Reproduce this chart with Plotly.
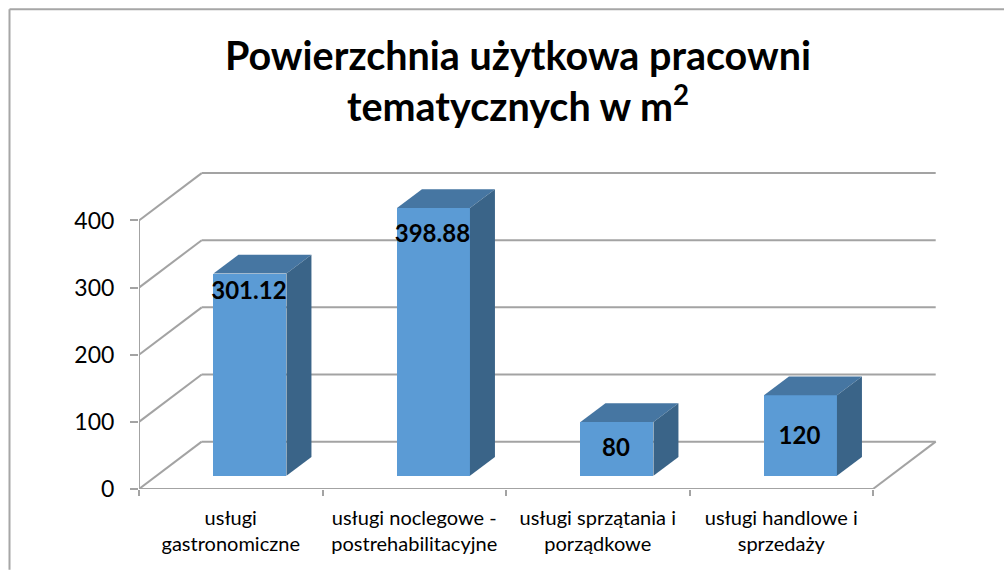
import plotly.graph_objects as go

# ---- data ----
categories = ["usługi<br>gastronomiczne", "usługi noclegowe -<br>postrehabilitacyjne",
              "usługi sprzątania i<br>porządkowe", "usługi handlowe i<br>sprzedaży"]
values = [301.12, 398.88, 80, 120]
value_labels = ["301.12", "398.88", "80", "120"]
label_offsets = [-9, -22, -21.5, -43.5]
y_ticks = [0, 100, 200, 300, 400]
title_text = "Powierzchnia użytkowa pracowni<br>tematycznych w m<sup>2</sup>"

# ---- layout geometry ----
W, H = 1004, 570
L, R, T, B = 139, 944, 160, 489.3      # plot box in page pixels
PX_X = 183.5                           # pixels per category
PX_Y = 0.672                           # pixels per value unit
x0 = -0.5
x_max = x0 + (R - L) / PX_X
y_max = (B - T) / PX_Y


def dx(px):
    return px / PX_X


def dy(px):
    return px / PX_Y


WALL_DX, WALL_DY = dx(62.7), dy(47.4)
BAR_SHIFT_X, BAR_BASE = dx(19.2), dy(13.3)
BAR_W = dx(73)
DEPTH_X, DEPTH_Y = dx(25), dy(18.7)
GRID = "#a3a3a3"
FRONT, TOP_FACE, SIDE = "#5b9bd5", "#4676a2", "#3a6488"
FONT = "Lato"

positions = list(range(len(values)))
centers = [p + BAR_SHIFT_X for p in positions]
x_end = len(values) - 0.5

fig = go.Figure()

# front faces
fig.add_trace(go.Bar(x=centers, y=values, base=BAR_BASE, width=BAR_W,
                     marker=dict(color=FRONT, line=dict(width=0)),
                     showlegend=False, hoverinfo="skip"))

# top and side faces
for c, v in zip(centers, values):
    left, right = c - BAR_W / 2, c + BAR_W / 2
    top = v + BAR_BASE
    fig.add_trace(go.Scatter(
        x=[left, right, right + DEPTH_X, left + DEPTH_X, left],
        y=[top, top, top + DEPTH_Y, top + DEPTH_Y, top],
        mode="lines", fill="toself", fillcolor=TOP_FACE, line=dict(width=0),
        showlegend=False, hoverinfo="skip"))
    fig.add_trace(go.Scatter(
        x=[right, right + DEPTH_X, right + DEPTH_X, right, right],
        y=[top, top + DEPTH_Y, BAR_BASE + DEPTH_Y, BAR_BASE, top],
        mode="lines", fill="toself", fillcolor=SIDE, line=dict(width=0),
        showlegend=False, hoverinfo="skip"))

# data labels
fig.add_trace(go.Scatter(
    x=[c - dx(1) for c in centers],
    y=[v + o for v, o in zip(values, label_offsets)],
    text=value_labels, mode="text", textposition="middle center",
    textfont=dict(family=FONT, size=24, color="#000000", weight="bold"),
    showlegend=False, hoverinfo="skip"))

shapes = []
gridline = dict(color=GRID, width=2)
# gridlines: left wall diagonal + back wall
for t in y_ticks:
    shapes.append(dict(type="line", xref="x", yref="y", layer="below", line=gridline,
                       x0=x0, y0=t, x1=x0 + WALL_DX, y1=t + WALL_DY))
    shapes.append(dict(type="line", xref="x", yref="y", layer="below", line=gridline,
                       x0=x0 + WALL_DX, y0=t + WALL_DY, x1=x_end + WALL_DX, y1=t + WALL_DY))
# floor right edge and front axis lines
shapes.append(dict(type="line", xref="x", yref="y", layer="below", line=gridline,
                   x0=x_end, y0=0, x1=x_end + WALL_DX, y1=WALL_DY))
shapes.append(dict(type="line", xref="x", yref="y", layer="below", line=gridline,
                   x0=x0, y0=0, x1=x_end, y1=0))
shapes.append(dict(type="line", xref="x", yref="y", layer="below", line=gridline,
                   x0=x0, y0=0, x1=x0, y1=y_ticks[-1]))

# chart frame (left and top edges only are visible in the reference)
px = lambda p: (p - L) / (R - L)
py = lambda p: (B - p) / (B - T)
frame = dict(color="#a6a6a6", width=2)
shapes.append(dict(type="line", xref="paper", yref="paper", line=frame,
                   x0=px(9.5), y0=py(9), x1=px(9.5), y1=py(H)))
shapes.append(dict(type="line", xref="paper", yref="paper", line=frame,
                   x0=px(9.5), y0=py(9), x1=px(W), y1=py(9)))

fig.update_layout(
    width=W, height=H,
    margin=dict(l=L, r=W - R, t=T, b=H - B, pad=0),
    paper_bgcolor="white", plot_bgcolor="white",
    showlegend=False, shapes=shapes, bargap=0,
    font=dict(family=FONT, color="#000000"),
    title=dict(text=title_text, x=518 / W, xanchor="center", y=1 - 70 / H, yanchor="top",
               font=dict(family=FONT, size=39.5, weight="bold", color="#000000")),
    xaxis=dict(range=[x0, x_max], tickmode="array", tickvals=positions, ticktext=categories,
               tickfont=dict(family=FONT, size=20, color="#000000"),
               ticks="", showgrid=False, zeroline=False, showline=False, tickangle=0,
               ticklabelstandoff=15,
               minor=dict(tickmode="array", tickvals=[p - 0.5 for p in positions] + [x_end],
                          ticks="outside", ticklen=6, tickwidth=1.5, tickcolor=GRID, showgrid=False)),
    yaxis=dict(range=[0, y_max], tickmode="array", tickvals=y_ticks,
               tickfont=dict(family=FONT, size=23, color="#000000"),
               ticks="outside", ticklen=8, tickwidth=1.5, tickcolor=GRID,
               ticklabelstandoff=11,
               showgrid=False, zeroline=False, showline=False),
)

fig.write_html("out.html", post_script="document.body.style.margin='0';",
               config=dict(displayModeBar=False))
